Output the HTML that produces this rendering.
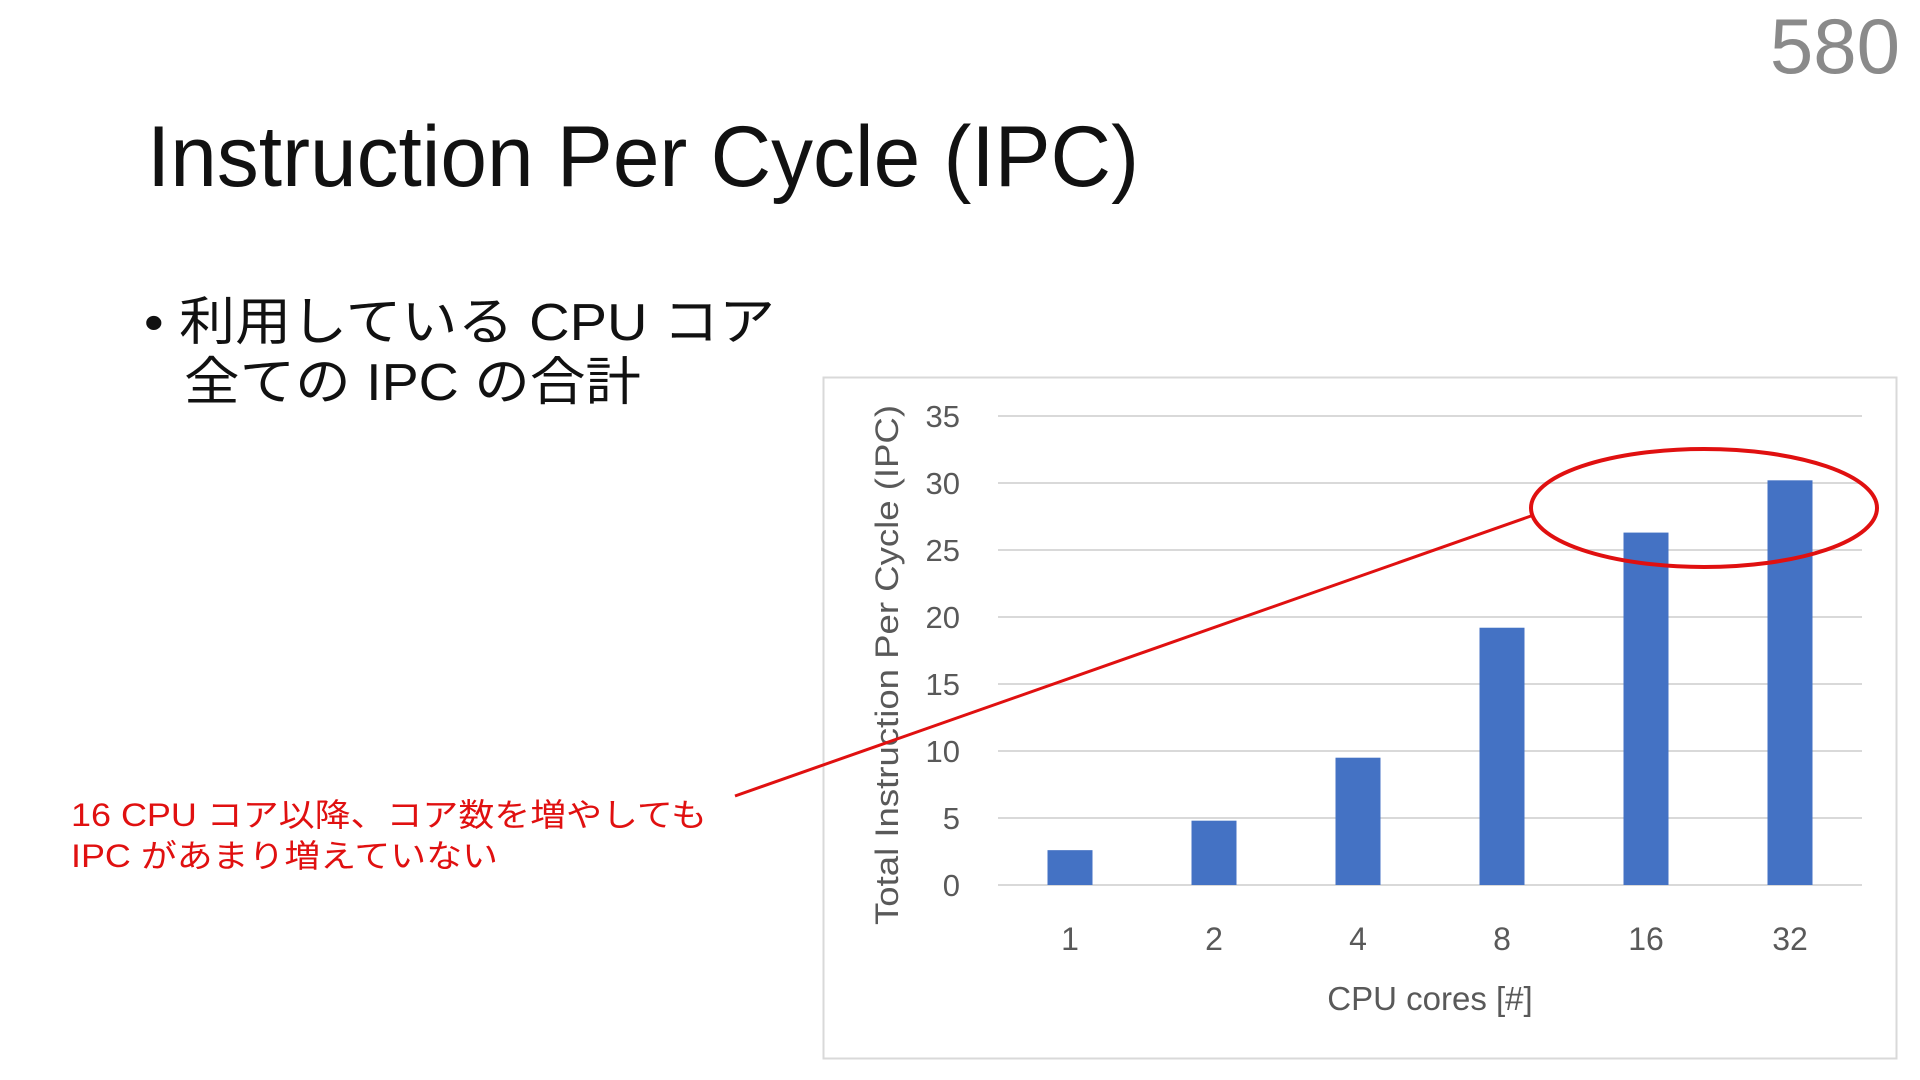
<!DOCTYPE html>
<html><head><meta charset="utf-8"><style>
html,body{margin:0;padding:0;background:#fff;width:1920px;height:1080px;overflow:hidden}
svg{display:block}
text{font-family:"Liberation Sans","Noto Sans CJK JP",sans-serif}
</style></head><body>
<svg id="s" width="1920" height="1080">
<text x="1900" y="73" text-anchor="end" font-size="78" fill="#8a8a8a">580</text>
<text x="147" y="186" font-size="86" fill="#111" textLength="992" lengthAdjust="spacingAndGlyphs">Instruction Per Cycle (IPC)</text>
<text x="144" y="340" font-size="52" fill="#111" textLength="631" lengthAdjust="spacingAndGlyphs">• 利用している CPU コア</text>
<text x="184" y="400" font-size="52" fill="#111" textLength="457" lengthAdjust="spacingAndGlyphs">全ての IPC の合計</text>
<text x="71" y="826" font-size="32" fill="#e01010" textLength="636" lengthAdjust="spacingAndGlyphs">16 CPU コア以降、コア数を増やしても</text>
<text x="71" y="867" font-size="32" fill="#e01010" textLength="427" lengthAdjust="spacingAndGlyphs">IPC があまり増えていない</text>
<rect x="823.5" y="377.5" width="1073" height="681" fill="#fff" stroke="#d9d9d9" stroke-width="2"/>
<g id="chart"></g>
<line x1="735" y1="796" x2="1531" y2="516" stroke="#e01010" stroke-width="3"/>
<ellipse cx="1704" cy="508" rx="173" ry="59" fill="none" stroke="#e01010" stroke-width="4"/>
</svg>
<script>
const categories=["1","2","4","8","16","32"];
const values=[2.6,4.8,9.5,19.2,26.3,30.2];
const yTicks=[0,5,10,15,20,25,30,35];
const NS="http://www.w3.org/2000/svg";
const g=document.getElementById("chart");
const x0=998,x1=1862,yb=885,yt=416,ymax=35;
const band=(x1-x0)/categories.length;
function xs(i){return x0+band*(i+0.5);}
function ys(v){return yb-(v/ymax)*(yb-yt);}
function mk(t,a){const e=document.createElementNS(NS,t);for(const k in a)e.setAttribute(k,a[k]);g.appendChild(e);return e;}
yTicks.forEach(t=>{
 const l=mk("line",{x1:x0,x2:x1,y1:ys(t),y2:ys(t),stroke:"#d9d9d9","stroke-width":2});
 
 
 const tx=mk("text",{x:960,y:ys(t)+11,"text-anchor":"end","font-size":31,fill:"#595959"});
 tx.textContent=t;
 
 
});
categories.forEach((c,i)=>{
 const w=45;
 const r=mk("rect",{x:xs(i)-w/2,y:ys(values[i]),width:w,height:yb-ys(values[i]),fill:"#4472C4"});
 
 
 const tx=mk("text",{x:xs(i),y:950,"text-anchor":"middle","font-size":32,fill:"#595959"});
 tx.textContent=c;
 
 
});
const xt=mk("text",{x:1430,y:1010,"text-anchor":"middle","font-size":33,fill:"#595959"});
xt.textContent="CPU cores [#]";


const yt2=mk("text",{x:0,y:0,"text-anchor":"middle","font-size":32,fill:"#595959",transform:"translate(898,665) rotate(-90)",textLength:520,lengthAdjust:"spacingAndGlyphs"});
yt2.textContent="Total Instruction Per Cycle (IPC)";


</script>
</body></html>
